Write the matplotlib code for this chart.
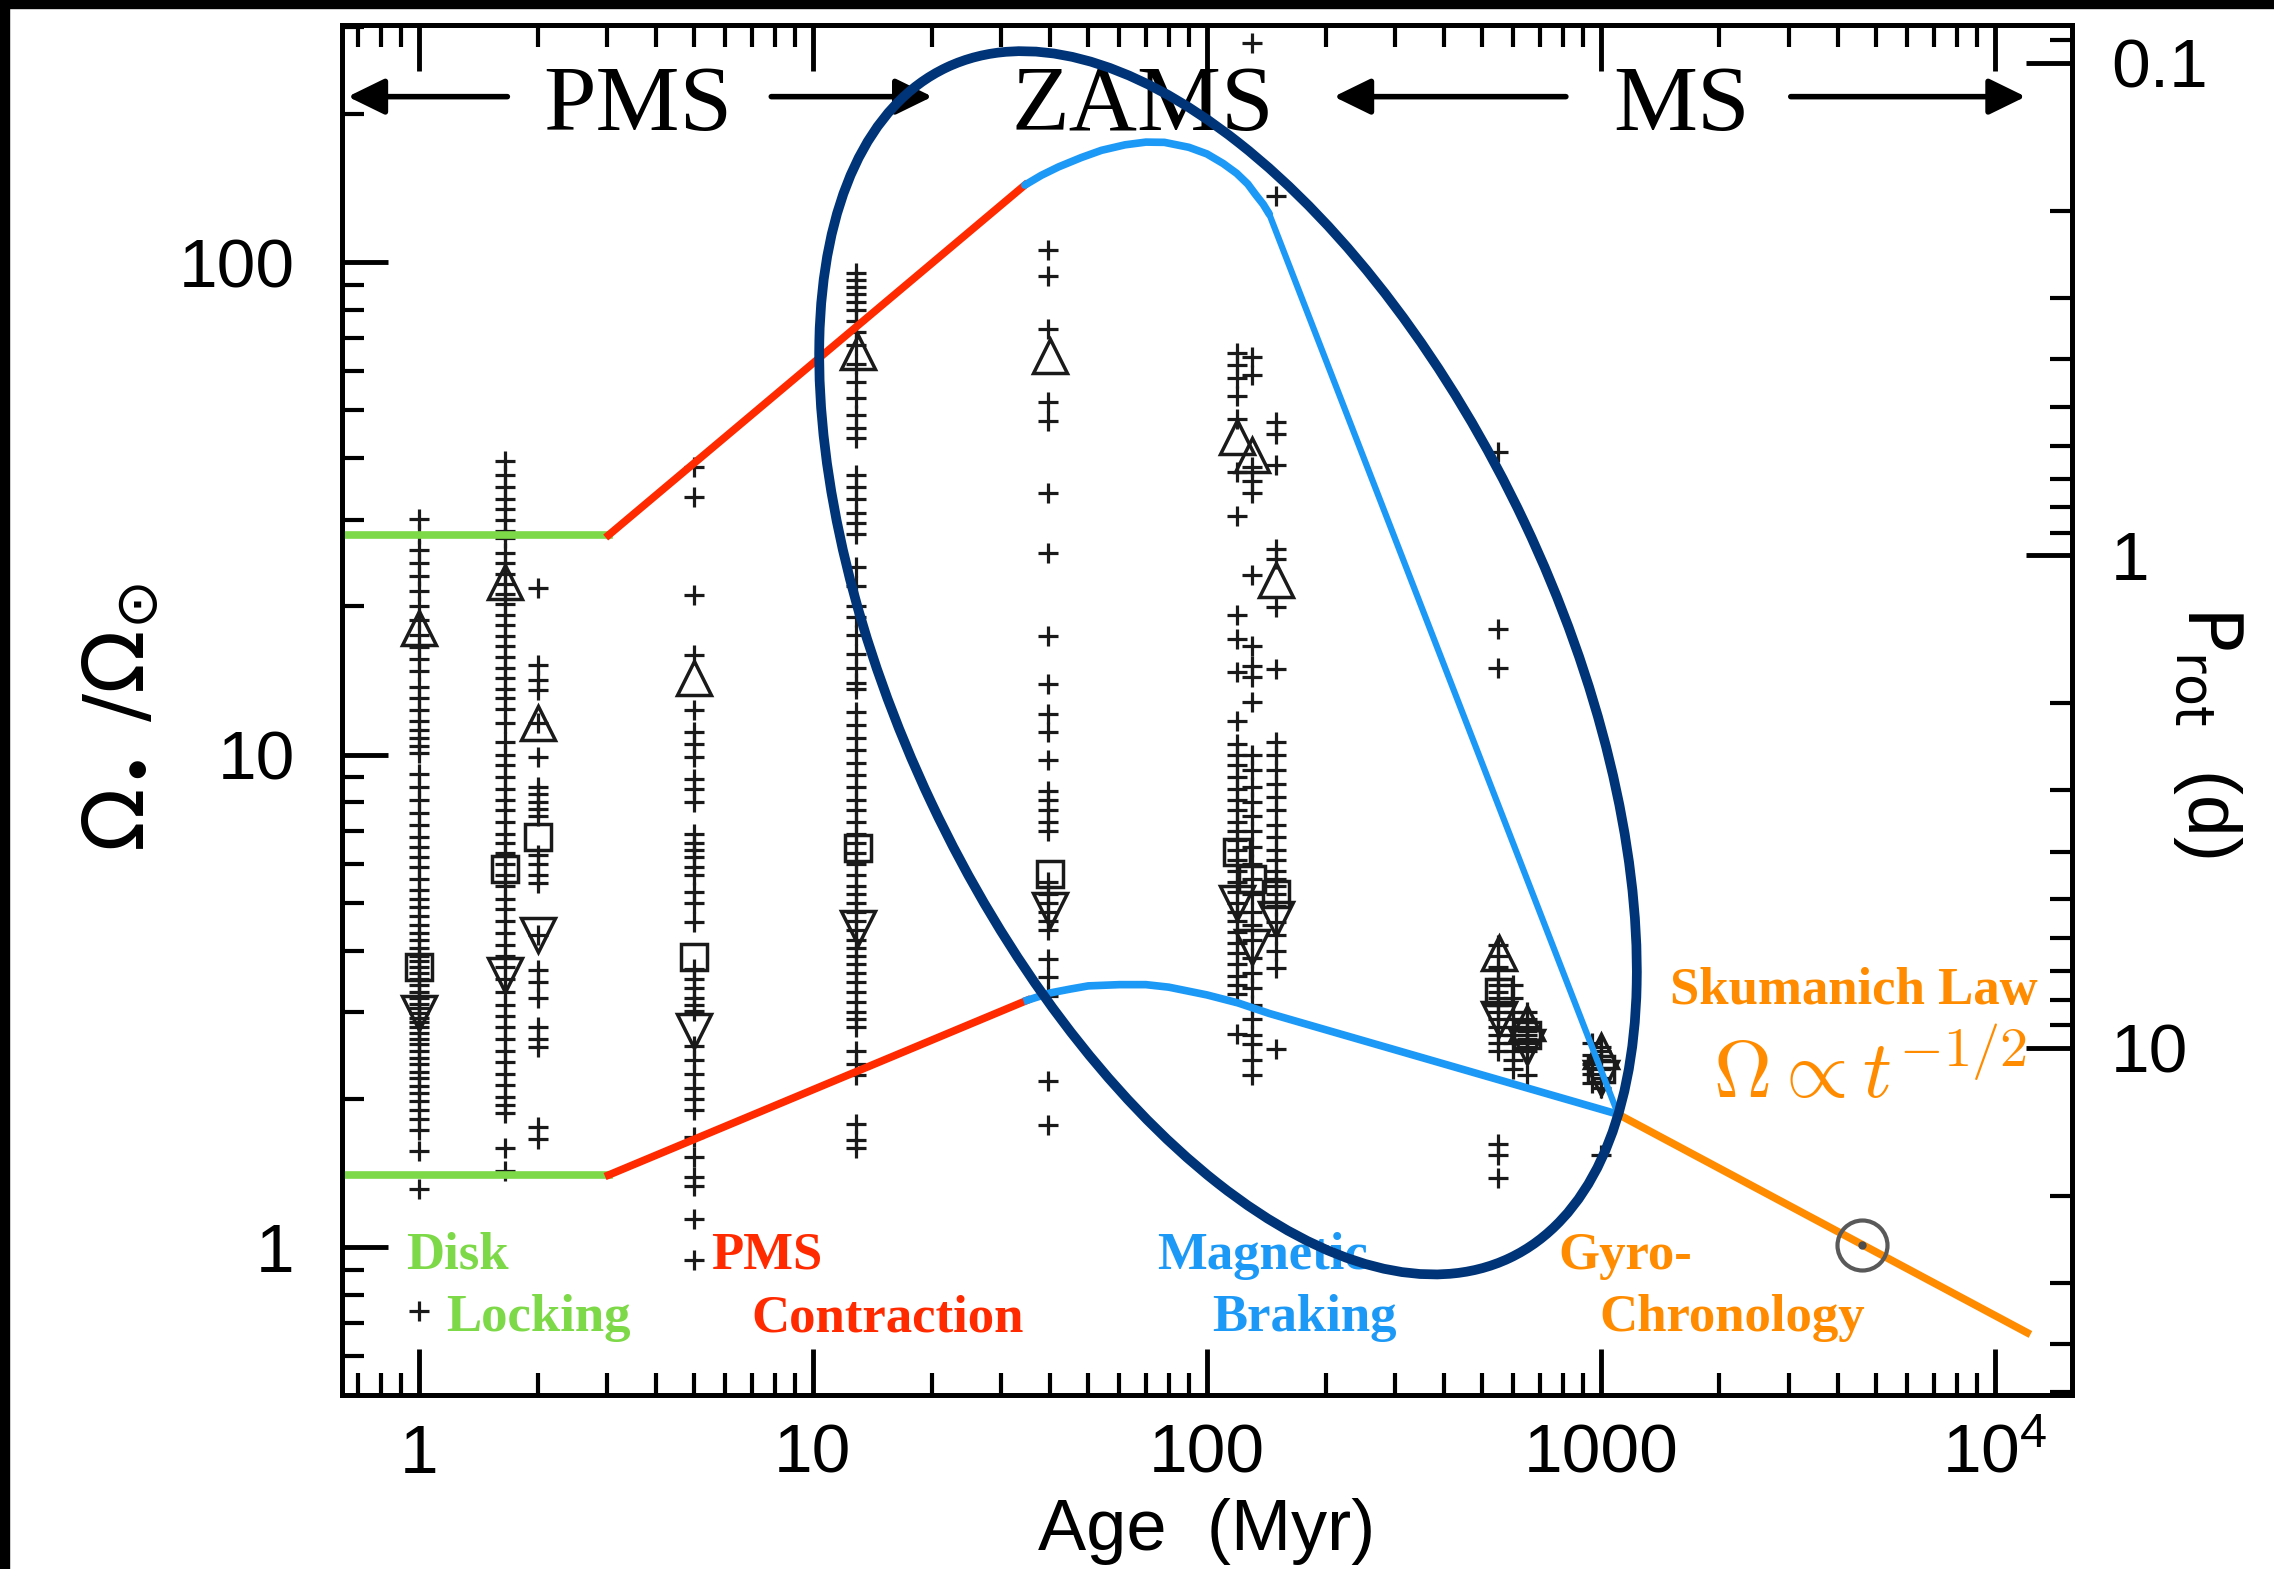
import numpy as np
import matplotlib.pyplot as plt
from matplotlib.patches import Ellipse, Rectangle
from matplotlib.ticker import LogLocator, NullFormatter

plt.rcParams['font.family'] = ['Liberation Sans', 'DejaVu Sans']
plt.rcParams['mathtext.fontset'] = 'dejavusans'

P_SUN = 25.4  # solar rotation period (d), Omega/Omega_sun = P_SUN / P_rot

# --- open cluster rotation rates, Omega/Omega_sun of single stars ---
omega_1myr = [30.1, 28, 26, 24.5, 23, 21.5, 20, 18.8, 17.5, 16.5, 15.6, 14.8,
              13.7, 13, 12.3, 11.7, 11.2, 10.8, 10.4, 10.05,
              9.15, 8.6, 8.1, 7.6, 7.2, 6.8, 6.5, 6.2, 5.9, 5.6, 5.3, 5.1, 4.9,
              4.7, 4.5, 4.35, 4.2, 4.05, 3.9, 3.8, 3.7, 3.6, 3.5, 3.4, 3.3, 3.2,
              3.12, 3.05, 2.98, 2.92, 2.86, 2.8, 2.72, 2.65, 2.58, 2.5, 2.42,
              2.35, 2.27, 2.2, 2.12, 2.05, 1.98, 1.9, 1.82, 1.73, 1.57, 1.31, 0.74]
omega_1p65myr = [39.4, 37, 35, 33, 31.5, 30, 28.5, 27.5, 25.6, 24.5, 23.3, 22.2,
                 21.2, 20.2, 19.2, 18.3, 17.4, 16.6, 15.8, 15, 14.3, 13.6, 13,
                 12.4, 11.6, 10.6, 10, 9.5, 9, 8.5, 8.1, 7.7, 7.3, 6.9, 6.6, 6.3,
                 6.0, 5.7, 5.4, 5.1, 4.85, 4.6, 4.35, 4.1, 3.9, 3.7, 3.5, 3.3,
                 3.1, 2.95, 2.8, 2.65, 2.5, 2.37, 2.25, 2.13, 2.02, 1.94, 1.87,
                 1.59, 1.43]
omega_2myr = [21.8, 15.2, 14.2, 13.5, 11.6, 9.9, 8.6, 8.3, 8.0, 7.76, 7.5, 6.25,
              6.0, 5.7, 5.48, 4.31, 3.66, 3.45, 3.21, 2.8, 2.65, 2.55, 1.75, 1.66]
omega_5myr = [38.4, 33.3, 21.1, 15.9, 12.3, 11.1, 10.5, 9.9, 8.9, 8.5, 8.0, 6.9,
              6.6, 6.4, 6.2, 5.9, 5.7, 5.25, 5.0, 4.57, 3.67, 3.5, 3.35, 3.2, 3.1,
              3.02, 2.56, 2.4, 2.25, 2.1, 2.0, 1.9, 1.67, 1.52, 1.39, 1.33, 1.14,
              0.94]
omega_13myr = [95, 92, 89, 86, 83, 80, 76, 72, 68, 62, 57, 53, 49, 46, 44,
               37, 35, 33, 31, 29.5, 28, 24, 22, 20, 19, 17.5, 16, 15, 14, 13.6,
               12.2, 11.5, 10.8, 10.2, 9.6, 9.1, 8.6, 8.1, 7.7, 7.3, 6.9, 6.6,
               6.3, 6.0, 5.7, 5.4, 5.2, 5.0, 4.8, 4.6, 4.4, 4.2, 4.05, 3.9, 3.75,
               3.6, 3.45, 3.3, 3.15, 3.0, 2.9, 2.8, 2.5, 2.35, 2.24, 1.78, 1.65,
               1.59]
omega_40myr = [106, 93.5, 73, 52, 47.6, 34, 25.7, 17.4, 13.9, 12.1, 11.1, 9.77,
               8.45, 8.1, 7.7, 7.3, 7.0, 5.5, 5.2, 5.0, 4.8, 4.6, 4.4, 3.85,
               3.53, 3.23, 2.17, 1.77]
omega_120myr = [65.5, 61.7, 58.1, 53.4, 48, 37.4, 30.5, 19.2, 17.2, 14.7, 11.7,
                10.5, 10, 9.5, 9.0, 8.5, 8.1, 7.7, 7.3, 7.0, 6.7, 6.4, 6.1, 5.8,
                5.5, 5.25, 5.0, 4.8, 4.6, 4.37, 4.15, 3.95, 3.75, 3.55, 3.4,
                3.27, 2.71]
omega_130myr = [278, 64, 58.9, 38.3, 36, 34, 23.2, 16.6, 15.1, 14.4, 12.8, 10,
                9.3, 8.6, 8.0, 7.5, 7.0, 6.5, 6.0, 5.6, 5.2, 4.8, 4.5, 4.2, 3.87,
                3.6, 3.35, 3.1, 2.9, 2.7, 2.58, 2.4, 2.24]
omega_150myr = [136, 47.4, 44.7, 38.7, 26.1, 24.9, 19.9, 14.9, 10.6, 10, 9.3,
                8.7, 8.2, 7.7, 7.2, 6.8, 6.4, 6.1, 5.8, 5.6, 5.4, 5.2, 4.92,
                4.58, 4.3, 4.0, 3.69, 2.52]
omega_550myr = [41.1, 18.0, 15.0, 4.1, 3.9, 3.7, 3.5, 3.4, 3.3, 3.2, 3.1, 3.0,
                2.9, 2.8, 2.7, 2.6, 2.5, 1.62, 1.54, 1.38]
omega_600myr = [3.4, 3.2, 3.0, 2.9, 2.8, 2.7, 2.6, 2.5, 2.4, 2.3]
omega_650myr = [3.0, 2.9, 2.8, 2.75, 2.7, 2.65, 2.6, 2.55, 2.5, 2.23]
omega_950myr = [2.6, 2.45, 2.35, 2.25, 2.15]
omega_1000myr = [2.55, 2.5, 2.4, 2.3, 2.2, 2.1, 1.54]

# percentiles (90th / 50th / 10th) per cluster
pct_age = [1, 1.65, 2, 5, 13, 40, 119, 130, 150, 550, 650, 1000]
pct_hi = [18.1, 22.4, 11.6, 14.3, 65.8, 64.5, 44.2, 40.6, 22.6, 3.96, 2.85, 2.5]
pct_med = [3.71, 5.86, 6.79, 3.88, 6.45, 5.72, 6.33, 5.6, 5.22, 3.3, 2.7, 2.3]
pct_lo = [2.99, 3.56, 4.31, 2.74, 4.45, 4.83, 5.0, 4.07, 4.63, 2.9, 2.55, 2.2]

# --- schematic spin evolution tracks (age in Myr, Omega/Omega_sun) ---
disk_age = [0.6, 3.03]
disk_fast = [27.9, 27.9]
disk_slow = [1.40, 1.40]
pms_fast_age = [3.03, 34.5]
pms_fast = [27.9, 143.3]
pms_slow_age = [3.03, 35]
pms_slow = [1.40, 3.17]
brake_fast_age = [34.5, 38, 42, 48, 54, 62, 70, 78, 90, 100, 110, 119, 127, 133, 139, 144]
brake_fast = [143.3, 150, 156, 163, 168.6, 173, 175.2, 175, 171, 165.8, 158.5,
              151.4, 144, 137, 131, 125.1]
brake_steep_age = [144, 1106]
brake_steep = [125.1, 1.86]
brake_slow_age = [35, 40, 45, 50, 60, 70, 80, 100, 120, 144, 1106]
brake_slow = [3.17, 3.28, 3.34, 3.39, 3.41, 3.41, 3.37, 3.25, 3.13, 2.98, 1.86]
gyro_age = [1106, 12070]
gyro_omega = [1.86, 0.67]
sun_age = 4592
sun_omega = 1.01

GREEN = '#7DD947'
RED = '#FF2A00'
BLUE = '#1C99F7'
ORANGE = '#FF8C00'
NAVY = '#003478'


def main():
    fig = plt.figure(figsize=(22.74, 15.69), dpi=100)
    ax = fig.add_axes([0.1504, 0.1109, 0.7608, 0.8732])
    ax.set_xscale('log')
    ax.set_yscale('log')
    ax.set_xlim(0.638, 15700)
    ax.set_ylim(0.5006, 303)

    clusters = [(1.0, omega_1myr), (1.65, omega_1p65myr), (2.01, omega_2myr),
                (5.0, omega_5myr), (12.9, omega_13myr), (39.5, omega_40myr),
                (119, omega_120myr), (130, omega_130myr), (150, omega_150myr),
                (547, omega_550myr), (600, omega_600myr), (650, omega_650myr),
                (950, omega_950myr), (1000, omega_1000myr)]
    for age, om in clusters:
        ax.plot([age] * len(om), om, ls='none', marker='+', ms=14, mew=2.3,
                color='0.1', zorder=2)

    ax.plot(pct_age, pct_hi, ls='none', marker='^', ms=25, mfc='none',
            mec='0.1', mew=2.5, zorder=3)
    ax.plot(pct_age, pct_med, ls='none', marker='s', ms=19, mfc='none',
            mec='0.1', mew=2.5, zorder=3)
    ax.plot(pct_age, pct_lo, ls='none', marker='v', ms=25, mfc='none',
            mec='0.1', mew=2.5, zorder=3)

    # tracks
    ax.plot(disk_age, disk_fast, color=GREEN, lw=5.5, zorder=4)
    ax.plot(disk_age, disk_slow, color=GREEN, lw=5.5, zorder=4)
    ax.plot(pms_fast_age, pms_fast, color=RED, lw=5.5, zorder=4)
    ax.plot(pms_slow_age, pms_slow, color=RED, lw=5.5, zorder=4)
    ax.plot(brake_fast_age, brake_fast, color=BLUE, lw=5.5, zorder=4,
            solid_capstyle='round')
    ax.plot(brake_steep_age, brake_steep, color=BLUE, lw=4.5, zorder=4)
    ax.plot(brake_slow_age, brake_slow, color=BLUE, lw=5.5, zorder=4)
    ax.plot(gyro_age, gyro_omega, color=ORANGE, lw=5.5, zorder=4)

    # the Sun
    ax.plot(sun_age, sun_omega, 'o', ms=36, mfc='none', mec='0.35', mew=3, zorder=5)
    ax.plot(sun_age, sun_omega, 'o', ms=5, color='0.3', zorder=5)

    # phase labels
    serif = 'Liberation Serif'
    ax.text(0.927, 0.903, 'Disk', color=GREEN, fontsize=38, fontweight='bold', family=serif)
    ax.text(1.175, 0.675, 'Locking', color=GREEN, fontsize=38, fontweight='bold', family=serif)
    ax.text(5.5, 0.903, 'PMS', color=RED, fontsize=38, fontweight='bold', family=serif)
    ax.text(6.96, 0.675, 'Contraction', color=RED, fontsize=38, fontweight='bold', family=serif)
    ax.text(74.7, 0.903, 'Magnetic', color=BLUE, fontsize=38, fontweight='bold', family=serif)
    ax.text(103, 0.675, 'Braking', color=BLUE, fontsize=38, fontweight='bold', family=serif)
    ax.text(782, 0.903, 'Gyro-', color=ORANGE, fontsize=38, fontweight='bold', family=serif)
    ax.text(991, 0.675, 'Chronology', color=ORANGE, fontsize=38, fontweight='bold', family=serif)
    ax.text(12800, 3.12, 'Skumanich Law', color=ORANGE, fontsize=38, fontweight='bold',
            family=serif, ha='right')
    ax.text(12080, 2.01, r'$\Omega \propto t^{-1/2}$', color=ORANGE, fontsize=58,
            ha='right', math_fontfamily='cm')

    # evolutionary stage header
    y_arrow = 216.7
    for name, xc in [('PMS', 3.595), ('ZAMS', 68.7), ('MS', 1606)]:
        ax.text(xc, 185.7, name, ha='center', fontsize=68, family=serif)
    arrows = [(1.677, 0.66), (7.84, 20.1), (815, 210), (3033, 11970)]
    for tail, head in arrows:
        ax.annotate('', xy=(head, y_arrow), xytext=(tail, y_arrow),
                    arrowprops=dict(arrowstyle='-|>,head_length=0.45,head_width=0.22',
                                    color='k', lw=4, mutation_scale=50,
                                    shrinkA=0, shrinkB=0))

    # axes styling
    ax.set_xticks([1, 10, 100, 1000, 1e4],
                  labels=['1', '10', '100', '1000', r'$\mathregular{10^4}$'])
    ax.set_yticks([1, 10, 100], labels=['1', '10', '100'])
    ax.xaxis.set_minor_locator(LogLocator(subs=np.arange(2, 10), numticks=20))
    ax.yaxis.set_minor_locator(LogLocator(subs=np.arange(2, 10), numticks=20))
    ax.xaxis.set_minor_formatter(NullFormatter())
    ax.yaxis.set_minor_formatter(NullFormatter())
    ax.tick_params(which='major', direction='in', length=33, width=3.5,
                   top=True, right=False, labelsize=50)
    ax.tick_params(which='minor', direction='in', length=16, width=3,
                   top=True, right=False)
    ax.tick_params(axis='x', which='major', pad=20)
    ax.tick_params(axis='y', which='major', pad=34)
    for sp in ax.spines.values():
        sp.set_linewidth(3.5)

    ax2 = ax.twinx()
    ax2.set_yscale('log')
    ax2.set_ylim(P_SUN / 0.5006, P_SUN / 303)
    ax2.set_yticks([0.1, 1, 10], labels=['0.1', '1', '10'])
    ax2.yaxis.set_minor_locator(LogLocator(subs=np.arange(2, 10), numticks=20))
    ax2.yaxis.set_minor_formatter(NullFormatter())
    ax2.tick_params(which='major', direction='in', length=33, width=3.5,
                    labelsize=50, pad=28)
    ax2.tick_params(which='minor', direction='in', length=16, width=3)
    for sp in ax2.spines.values():
        sp.set_linewidth(3.5)

    ax.set_xlabel('Age  (Myr)', fontsize=52, labelpad=8)
    fig.text(121 / 2274, 1 - 718 / 1569, r'$\Omega_{\bullet}\ /\Omega_{\odot}$',
             rotation=90, ha='center', va='center', fontsize=60)
    fig.text(2208 / 2274, 1 - 732 / 1569, r'$\mathrm{P_{rot}}$  (d)',
             rotation=-90, ha='center', va='center', fontsize=54)

    # highlighted ZAMS region
    fig.add_artist(Ellipse((12.28, 9.062), 13.17, 6.56, angle=-64.7,
                           transform=fig.dpi_scale_trans, fill=False,
                           ec=NAVY, lw=7, zorder=5))

    # black frame strips of the original image
    fig.add_artist(Rectangle((0, 1 - 8 / 1569), 1, 8 / 1569,
                             transform=fig.transFigure, color='k', zorder=10))
    fig.add_artist(Rectangle((0, 0), 9 / 2274, 1,
                             transform=fig.transFigure, color='k', zorder=10))

    fig.savefig('out.png', dpi=100)


if __name__ == "__main__":
    main()
